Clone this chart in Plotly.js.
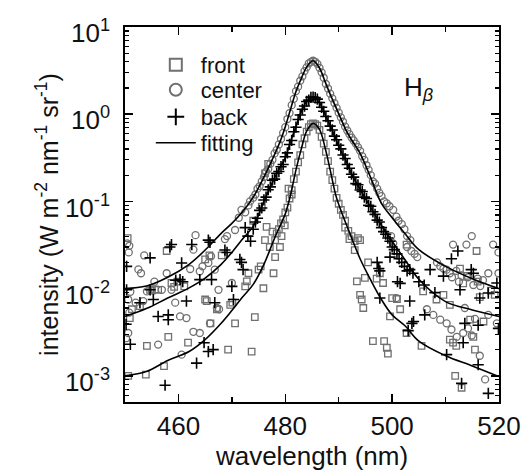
<!DOCTYPE html>
<html>
<head>
<meta charset="utf-8">
<script src="https://cdn.plot.ly/plotly-3.0.1.min.js"></script>
<style>html,body{margin:0;padding:0;background:#fff;}#chart{width:530px;height:475px;}</style>
</head>
<body>
<div id="chart"></div>
<script>
// ---- data ----
var frontX = [450.5,450.6,450.9,451.3,452.8,453.9,454.1,454.7,455.0,455.6,456.2,457.3,457.8,458.1,458.7,459.2,459.8,461.1,461.8,465.0,465.3,465.0,465.8,466.0,467.2,468.1,469.3,469.7,470.1,470.6,472.5,472.8,473.1,473.7,474.0,474.3,475.0,475.4,475.6,475.9,476.2,476.2,476.5,476.8,477.1,477.6,477.8,478.1,478.1,479.0,479.3,479.9,480.6,481.2,
  478.4,478.8,479.2,479.6,480.0,480.4,480.8,481.2,481.6,482.0,482.4,482.8,483.2,483.6,484.0,484.4,484.8,485.2,485.6,486.0,486.4,486.8,487.2,487.6,488.0,488.4,488.8,489.2,489.6,490.0,490.4,490.8,491.2,
  491.2,491.8,492.0,492.4,493.0,493.6,494.0,493.0,493.4,494.0,494.3,494.6,494.9,495.5,496.4,497.1,497.7,498.3,498.5,499.0,499.2,499.6,500.0,500.9,501.5,502.7,502.7,505.5,505.8,508.3,509.6,510.8,510.8,511.4,512.0,511.8,513.0,512.7,513.3,514.0,514.6,515.2,515.5,515.8,516.0,516.4,517.1,518.5,519.2];
var frontY = [0.038,0.0010,0.0046,0.0058,0.0063,0.00103,0.0022,0.0097,0.0095,0.0098,0.0097,0.00129,0.027,0.0028,0.0116,0.0105,0.0120,0.0106,0.0024,0.0075,0.0072,0.0216,0.024,0.0040,0.0058,0.024,0.0020,0.0065,0.0069,0.0040,0.0106,0.0121,0.015,0.0019,0.060,0.0047,0.0165,0.018,0.087,0.0101,0.036,0.21,0.051,0.27,0.030,0.045,0.015,0.036,0.023,0.030,0.040,0.053,0.14,0.12,
  0.043,0.048,0.056,0.062,0.075,0.085,0.108,0.135,0.18,0.22,0.28,0.34,0.45,0.53,0.63,0.71,0.77,0.785,0.77,0.74,0.66,0.55,0.46,0.37,0.29,0.22,0.175,0.14,0.11,0.094,0.08,0.07,0.06,
  0.050,0.046,0.037,0.040,0.035,0.038,0.036,0.0277,0.0121,0.0085,0.0075,0.0060,0.0133,0.020,0.0025,0.013,0.015,0.0116,0.0025,0.0021,0.0018,0.0048,0.0078,0.0076,0.0058,0.032,0.0031,0.0022,0.0093,0.0075,0.0085,0.0065,0.0026,0.0024,0.0022,0.0010,0.00073,0.017,0.0115,0.014,0.0044,0.0028,0.0020,0.027,0.012,0.0080,0.0042,0.0095,0.0085];

var centerX = [450.4,450.7,450.8,450.6,450.6,450.2,450.8,451.0,452.0,452.5,453.0,453.4,453.6,454.1,455.5,456.2,456.9,457.8,458.7,459.4,460.3,460.6,461.5,462.2,462.8,462.8,463.2,464.0,464.0,464.5,465.6,466.1,465.9,466.8,467.2,467.5,467.6,468.7,469.1,470.0,470.6,471.3,471.8,472.5,473.1,473.4,474.0,474.4,474.8,475.2,475.6,
  476.0,476.4,476.8,477.2,477.6,478.0,478.4,478.8,479.2,479.6,480.0,480.4,480.8,481.2,481.6,482.0,482.4,482.8,483.2,483.6,484.0,484.4,484.8,485.2,485.6,486.0,486.4,486.8,487.2,487.6,488.0,488.4,488.8,489.2,489.6,490.0,490.4,490.8,491.2,491.6,492.0,492.4,492.8,493.2,493.6,494.0,494.4,494.8,495.2,495.6,496.0,
  496.4,496.8,497.2,497.6,498.0,498.5,499.0,499.5,500.2,500.8,501.2,501.8,502.3,502.8,503.4,502.8,503.6,504.2,504.7,499.8,500.2,500.8,506.5,507.7,508.4,509.0,509.0,509.6,510.2,510.2,510.8,511.1,511.4,511.2,512.0,512.1,512.5,513.0,513.3,513.6,513.9,514.2,514.2,514.9,514.9,515.2,515.5,516.0,516.4,516.5,517.0,517.4,518.0,518.0,518.9,519.6,519.9,519.9];
var centerY = [0.033,0.026,0.031,0.0075,0.0031,0.0027,0.0053,0.0092,0.0069,0.0166,0.015,0.0072,0.024,0.0093,0.012,0.00228,0.0097,0.015,0.0097,0.0069,0.0048,0.00175,0.0046,0.0168,0.028,0.0032,0.041,0.0158,0.0031,0.018,0.0197,0.0235,0.0040,0.0165,0.0060,0.0097,0.0058,0.037,0.040,0.0116,0.047,0.065,0.080,0.075,0.09,0.10,0.11,0.12,0.14,0.15,0.17,
  0.19,0.22,0.235,0.27,0.30,0.355,0.39,0.45,0.52,0.61,0.71,0.88,1.03,1.27,1.50,1.84,2.07,2.42,2.72,3.12,3.45,3.82,3.98,4.10,3.99,3.78,3.40,3.02,2.62,2.22,1.97,1.72,1.52,1.34,1.18,1.04,0.92,0.82,0.72,0.65,0.59,0.54,0.50,0.46,0.42,0.38,0.33,0.30,0.26,0.23,0.20,
  0.17,0.16,0.14,0.125,0.115,0.10,0.095,0.088,0.080,0.067,0.060,0.055,0.048,0.040,0.036,0.030,0.027,0.025,0.023,0.040,0.033,0.0078,0.0058,0.0050,0.020,0.018,0.0044,0.017,0.0165,0.0040,0.015,0.0034,0.032,0.0135,0.016,0.0028,0.012,0.014,0.0031,0.0060,0.032,0.0135,0.0035,0.040,0.0029,0.011,0.0045,0.013,0.0017,0.0107,0.0125,0.00091,0.015,0.0050,0.032,0.0040,0.026,0.015];

var backX = [450.3,450.3,450.2,451.0,452.8,454.7,454.7,455.3,456.2,458.1,458.1,457.5,458.4,458.7,459.5,460.3,460.6,460.8,461.5,462.5,463.4,464.0,464.8,465.6,465.6,465.9,466.2,466.5,466.8,468.7,469.1,470.0,470.3,471.5,471.8,472.1,472.5,473.0,473.5,
  474.0,474.4,474.8,475.2,475.6,476.0,476.4,476.8,477.2,477.6,478.0,478.4,478.8,479.2,479.6,480.0,480.4,480.8,481.2,481.6,482.0,482.4,482.8,483.2,483.6,484.0,484.4,484.8,485.2,485.6,486.0,486.4,486.8,487.2,487.6,488.0,488.4,488.8,489.2,489.6,490.0,490.4,490.8,491.2,491.6,492.0,492.4,492.8,493.2,493.6,494.0,494.4,494.8,495.2,495.6,496.0,496.4,496.8,497.2,497.6,498.0,
  498.4,498.8,499.2,499.6,500.0,500.4,500.9,501.3,501.8,502.3,502.8,503.3,503.9,497.2,497.5,497.7,499.6,497.7,501.0,501.5,503.3,503.7,503.0,504.0,505.0,506.0,506.1,507.1,508.0,509.6,510.2,511.1,512.3,512.7,513.0,513.3,513.6,514.8,515.2,516.1,516.1,516.4,518.0,518.0,519.6,519.9];
var backY = [0.0097,0.018,0.0039,0.0023,0.0069,0.0225,0.0097,0.0075,0.0048,0.0044,0.0050,0.00078,0.030,0.032,0.0125,0.0127,0.0197,0.0120,0.0072,0.032,0.0014,0.0127,0.0024,0.036,0.0019,0.034,0.0127,0.0020,0.0069,0.0277,0.026,0.0106,0.0075,0.0216,0.020,0.0165,0.050,0.040,0.035,
  0.048,0.058,0.064,0.079,0.084,0.104,0.112,0.136,0.147,0.175,0.18,0.21,0.22,0.25,0.265,0.325,0.36,0.45,0.50,0.63,0.71,0.87,0.98,1.14,1.24,1.40,1.45,1.56,1.57,1.55,1.49,1.36,1.20,1.08,0.94,0.84,0.73,0.66,0.56,0.51,0.44,0.40,0.34,0.31,0.265,0.24,0.205,0.19,0.16,0.155,0.135,0.13,0.112,0.108,0.09,0.088,0.076,0.071,0.061,0.058,0.05,
  0.045,0.042,0.038,0.035,0.030,0.028,0.025,0.022,0.020,0.018,0.016,0.0165,0.015,0.020,0.017,0.016,0.023,0.0078,0.012,0.0115,0.0072,0.0040,0.0033,0.0042,0.012,0.011,0.0050,0.0165,0.009,0.0139,0.00175,0.022,0.027,0.0097,0.00082,0.0024,0.0040,0.0165,0.015,0.0038,0.00134,0.0078,0.0089,0.00063,0.0116,0.0035];

var fitX = [450,454,458,462,465,468,470,472,474,476,478,479,480,481,482,483,484,485.2,486.4,487.5,488.5,489.5,490.5,491.5,492.5,494,496,498,500,502.5,505,510,515,520];
var fitCenter = [0.0100,0.0107,0.0135,0.019,0.0277,0.043,0.056,0.076,0.112,0.19,0.347,0.48,0.72,1.15,1.82,2.57,3.47,4.10,3.39,2.32,1.64,1.19,0.86,0.63,0.50,0.355,0.186,0.095,0.065,0.042,0.028,0.018,0.013,0.0100];
var fitBack = [0.0048,0.0059,0.0078,0.0102,0.0132,0.019,0.026,0.037,0.052,0.10,0.186,0.245,0.316,0.49,0.72,1.07,1.40,1.58,1.35,0.97,0.72,0.51,0.37,0.28,0.20,0.138,0.085,0.053,0.035,0.021,0.0128,0.0071,0.0057,0.0048];
var fitFront = [0.0010,0.00112,0.0015,0.0019,0.0026,0.0040,0.0056,0.0080,0.0112,0.019,0.038,0.052,0.072,0.12,0.23,0.40,0.64,0.785,0.67,0.40,0.215,0.115,0.076,0.053,0.037,0.022,0.0125,0.0075,0.0050,0.0037,0.0025,0.0017,0.0013,0.00098];

var xTickVals = [460,480,500,520];
var xMinorVals = [470,490,510];
var yTickVals = [0.001,0.01,0.1,1,10];
var yTickText = ['10<sup>-3</sup>','10<sup>-2</sup>','10<sup>-1</sup>','10<sup>0</sup>','10<sup>1</sup>'];

// ---- chart ----
var FONT = 'Liberation Sans, Arial, Helvetica, sans-serif';
var GRAY = '#707070';
var yMinor = [];
for (var d = -4; d <= 0; d++) { for (var k = 2; k <= 9; k++) { yMinor.push(k * Math.pow(10, d)); } }

var traces = [
  {x: frontX, y: frontY, name: 'front', type: 'scatter', mode: 'markers', legend: 'legend',
   marker: {symbol: 'square-open', size: 6.5, color: GRAY, line: {color: GRAY, width: 1.3}}},
  {x: centerX, y: centerY, name: 'center', type: 'scatter', mode: 'markers', legend: 'legend2',
   marker: {symbol: 'circle-open', size: 7, color: GRAY, line: {color: GRAY, width: 1.3}}},
  {x: backX, y: backY, name: 'back', type: 'scatter', mode: 'markers', legend: 'legend3',
   marker: {symbol: 'cross-thin-open', size: 8, color: '#000', line: {color: '#000', width: 1.6}}},
  {x: fitX, y: fitCenter, name: 'fitting', type: 'scatter', mode: 'lines', legendgroup: 'fit', legend: 'legend4',
   line: {color: '#000', width: 1.6, shape: 'spline', smoothing: 1}},
  {x: fitX, y: fitBack, name: 'fitting', type: 'scatter', mode: 'lines', legendgroup: 'fit', showlegend: false, legend: 'legend4',
   line: {color: '#000', width: 1.6, shape: 'spline', smoothing: 1}},
  {x: fitX, y: fitFront, name: 'fitting', type: 'scatter', mode: 'lines', legendgroup: 'fit', showlegend: false, legend: 'legend4',
   line: {color: '#000', width: 1.6, shape: 'spline', smoothing: 1}}
];

function leg(yc, sizing) {
  return {x: 0.069, y: yc, xanchor: 'left', yanchor: 'middle', bgcolor: 'rgba(0,0,0,0)', borderwidth: 0,
          font: {size: 22, family: FONT, color: '#111'}, itemsizing: sizing, itemwidth: 40};
}

var layout = {
  width: 530, height: 475,
  margin: {l: 125, r: 31, t: 27, b: 73},
  paper_bgcolor: '#fff', plot_bgcolor: '#fff',
  font: {family: FONT, color: '#111', size: 26},
  showlegend: true,
  legend: leg(0.899, 'constant'), legend2: leg(0.832, 'constant'), legend3: leg(0.760, 'constant'), legend4: leg(0.691, 'trace'),
  xaxis: {range: [450, 520], tickmode: 'array', tickvals: xTickVals, ticks: 'inside', ticklen: 8, tickwidth: 1.5,
          tickcolor: '#000', showline: true, linecolor: '#000', linewidth: 1.8, mirror: 'ticks',
          showgrid: false, zeroline: false, tickfont: {size: 26, family: FONT},
          minor: {tickmode: 'array', tickvals: xMinorVals, ticks: 'inside', ticklen: 5, tickwidth: 1.5, tickcolor: '#000', showgrid: false},
          title: {text: 'wavelength (nm)', font: {size: 26, family: FONT}, standoff: 1}},
  yaxis: {type: 'log', range: [-3.3, 1], tickmode: 'array', tickvals: yTickVals, ticktext: yTickText,
          ticks: 'inside', ticklen: 8, tickwidth: 1.5, tickcolor: '#000', showline: true, linecolor: '#000',
          linewidth: 1.8, mirror: 'ticks', showgrid: false, zeroline: false, tickfont: {size: 26, family: FONT},
          ticklabelstandoff: 8, ticklabelshift: 6,
          minor: {tickmode: 'array', tickvals: yMinor, ticks: 'inside', ticklen: 4, tickwidth: 1.2, tickcolor: '#000', showgrid: false},
          title: {text: 'intensity (W m<sup>-2</sup> nm<sup>-1</sup> sr<sup>-1</sup>)', font: {size: 25, family: FONT}}},
  annotations: [{xref: 'paper', yref: 'paper', x: 0.74, y: 0.835, xanchor: 'left', yanchor: 'middle',
                 text: 'H<sub><i>β</i></sub>', showarrow: false, font: {size: 26, family: FONT, color: '#111'}}]
};

Plotly.newPlot('chart', traces, layout, {staticPlot: true, displayModeBar: false});
</script>
</body>
</html>
